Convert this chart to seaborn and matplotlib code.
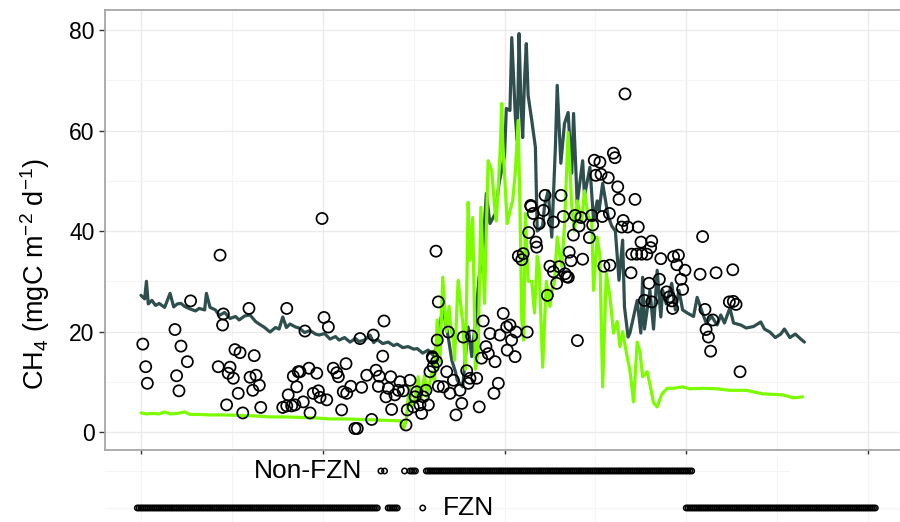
import numpy as np
import pandas as pd
import matplotlib
matplotlib.use("Agg")
import matplotlib.pyplot as plt
import seaborn as sns

# ---------------------------------------------------------------- data
# Modelled CH4 flux, first model (dark line): day of record, mgC m-2 d-1
dark_day = [0, 2, 3, 4, 6, 8, 10, 13, 16, 18, 20, 22, 24, 27, 30, 32, 35, 36, 38, 41,
            43, 46, 49, 52, 54, 57, 60, 63, 65, 68, 71, 74, 76, 78, 80, 82, 85, 87, 90, 93,
            96, 98, 101, 104, 107, 109, 112, 115, 118, 120, 123, 126, 128, 130, 133, 136,
            139, 141, 144, 147, 150, 152, 155, 158, 161, 163, 166, 169, 171, 173, 174, 177,
            178, 180, 182, 184, 186, 188, 190, 192, 195, 197, 200, 201, 203, 204, 206, 207,
            208, 209, 210, 211, 212, 213, 215, 217, 218, 221, 222, 224, 226, 228, 229, 231,
            233, 235, 237, 238, 240, 243, 244, 247, 249, 251, 252, 254, 257, 259, 261, 263,
            265, 266, 268, 269, 271, 273, 275, 276, 277, 280, 282, 284, 286, 287, 289, 292,
            294, 296, 298, 301, 304, 306, 309, 311, 314, 317, 319, 321, 324, 326, 330, 333,
            337, 341, 343, 346, 349, 352, 354, 357, 360, 363, 365]
dark_flux = [27.2, 26.5, 30.0, 25.5, 26.2, 25.2, 25.6, 24.8, 27.6, 24.9, 25.5, 25.6, 25.0,
             24.5, 24.1, 24.6, 24.3, 27.6, 24.8, 24.3, 23.2, 23.8, 22.6, 23.0, 22.3, 23.1,
             23.3, 22.0, 21.5, 20.8, 19.9, 20.8, 20.5, 22.9, 20.8, 21.5, 20.9, 20.7, 19.8,
             20.2, 19.5, 19.3, 19.6, 18.5, 19.0, 18.3, 18.8, 17.9, 18.6, 18.0, 18.3, 19.3,
             17.8, 18.4, 17.6, 17.9, 17.2, 17.5, 16.8, 17.0, 16.5, 16.6, 15.7, 16.3, 15.2,
             17.5, 24.8, 19.0, 14.3, 12.0, 10.3, 9.0, 13.0, 20.9, 15.0, 22.0, 30.8, 35.6,
             47.5, 41.5, 43.5, 49.5, 55.0, 64.4, 64.0, 78.5, 62.6, 58.0, 79.3, 66.0, 58.6,
             70.0, 77.3, 67.0, 62.0, 56.7, 40.0, 41.0, 45.0, 48.0, 38.8, 56.7, 69.0, 53.5,
             61.4, 63.6, 51.5, 63.4, 45.5, 54.0, 47.0, 52.7, 42.1, 46.0, 44.0, 49.5, 43.0,
             41.0, 40.0, 30.2, 38.2, 24.9, 18.9, 19.7, 23.0, 26.2, 19.7, 30.8, 20.5, 28.2,
             20.5, 32.2, 22.9, 28.2, 25.5, 29.6, 24.3, 28.2, 24.3, 23.6, 23.0, 26.8, 23.6,
             21.7, 23.0, 21.3, 23.3, 21.7, 24.7, 21.7, 21.3, 20.7, 21.0, 21.9, 20.5, 19.9,
             18.8, 19.5, 20.5, 18.8, 19.5, 18.5, 17.9]

# Modelled CH4 flux, second model (green line)
green_day = [0, 3, 6, 10, 13, 16, 20, 24, 27, 32, 38, 45, 55, 63, 71, 80, 88, 96, 104,
             112, 121, 129, 137, 143, 144.5, 146, 147.5, 149, 151, 152.5, 154, 156, 157.5,
             160, 161.5, 163, 164.5, 166, 168, 169.5, 170.5, 172, 172.5, 174.5, 176, 177,
             178.5, 180, 181, 182.5, 184, 185.5, 187, 189, 191, 193, 194.5, 195.5, 197.5,
             198.5, 199, 201.5, 203, 204.5, 206, 207.5, 208.5, 209.5, 210.5, 211.5, 213, 215,
             216.5, 218, 219, 221, 223, 225, 226, 227.5, 229, 230.5, 231.5, 233, 235, 237,
             238.5, 240, 242.5, 244, 246, 248, 249, 251, 252.5, 254, 256, 258, 260, 262,
             263.5, 265, 267.5, 269, 271, 273, 274.5, 276, 278.5, 280, 282, 284, 286.5,
             289.5, 293, 298, 302, 309, 317, 324, 333, 342, 353, 359, 364]
green_flux = [3.8, 3.6, 3.7, 3.6, 4.0, 3.6, 3.7, 4.0, 3.5, 3.5, 3.4, 3.4, 3.3, 3.2, 3.0,
              3.0, 2.9, 2.8, 2.6, 2.6, 2.5, 2.4, 2.3, 2.2, 0.6, 2.5, 9.0, 5.0, 7.0, 11.0,
              6.5, 11.3, 7.0, 12.0, 10.0, 22.3, 14.0, 30.8, 20.0, 25.0, 20.5, 18.0, 14.3,
              30.2, 25.0, 22.0, 12.5, 45.7, 34.2, 42.7, 12.5, 16.0, 44.7, 25.6, 54.0, 52.0,
              45.0, 42.0, 55.0, 65.4, 58.0, 41.5, 44.0, 46.0, 52.0, 62.0, 45.0, 22.3, 18.3,
              43.5, 30.0, 30.0, 23.7, 35.0, 33.0, 12.9, 30.0, 25.0, 28.0, 30.0, 38.8, 35.0,
              33.0, 41.0, 59.6, 45.0, 40.0, 46.0, 42.0, 48.0, 43.0, 42.0, 28.2, 38.8, 35.0,
              9.0, 31.6, 27.0, 19.7, 22.0, 17.0, 20.0, 14.9, 12.3, 6.0, 17.9, 16.0, 11.0,
              12.0, 9.5, 5.8, 5.0, 7.5, 8.7, 8.7, 9.0, 8.6, 8.7, 8.6, 8.3, 8.3, 7.6, 7.4,
              6.8, 7.0]

# Chamber observations (open circles)
obs_day = [1.0, 2.6, 3.5, 18.7, 22.0, 19.6, 20.9, 25.5, 27.3, 43.5, 42.5, 45.3, 44.9,
           47.1, 49.0, 48.0, 50.8, 51.7, 54.5, 53.5, 56.0, 59.4, 62.3, 60.0, 63.3, 65.1,
           61.5, 65.9, 80.2, 78.0, 81.0, 80.2, 82.9, 84.7, 85.7, 83.8, 86.5, 87.5, 89.3,
           90.2, 92.4, 96.7, 93.0, 94.8, 97.6, 98.5, 99.6, 102.2, 100.7, 103.1, 105.8,
           107.7, 108.6, 112.8, 111.3, 113.2, 115.4, 110.4, 120.5, 121.4, 117.7, 119.0,
           124.2, 126.9, 127.8, 129.3, 131.1, 130.6, 133.0, 133.7, 134.8, 137.4, 136.1,
           137.9, 139.7, 142.5, 141.6, 144.3, 148.0, 145.8, 146.5, 149.8, 150.8, 151.7,
           153.5, 154.4, 155.3, 156.8, 158.1, 159.0, 160.8, 160.5, 163.0, 163.6, 163.6,
           162.3, 160.3, 162.6, 168.2, 169.1, 171.9, 166.3, 170.0, 175.5, 176.5, 173.3,
           186.1, 179.2, 181.0, 184.7, 180.1, 177.3, 181.9, 188.3, 187.4, 189.8, 191.1,
           192.0, 194.8, 197.5, 199.3, 201.2, 203.0, 203.9, 206.3, 201.5, 205.8, 196.6,
           194.2, 212.5, 207.6, 210.3, 209.5, 214.4, 215.8, 217.3, 217.7, 213.3, 219.1,
           222.3, 231.1, 226.9, 232.3, 225.0, 226.9, 230.1, 233.3, 228.7, 223.6, 235.1,
           235.6, 236.6, 243.0, 237.9, 238.8, 242.1, 246.7, 248.5, 248.0, 240.1, 254.7,
           258.0, 257.7, 253.8, 266.3, 249.4, 252.5, 259.9, 260.8, 250.2, 253.1, 257.1,
           262.3, 263.0, 271.8, 214.6, 221.4, 241.0, 265.3, 264.5, 267.8, 273.6, 269.6,
           275.1, 281.0, 270.0, 272.7, 275.5, 278.3, 279.5, 277.0, 281.0, 234.2, 280.4,
           286.0, 293.0, 295.7, 294.8, 299.3, 309.0, 307.6, 316.4, 325.6, 285.2, 297.1,
           298.0, 289.2, 290.7, 292.0, 292.5, 323.7, 325.9, 327.4, 310.3, 314.6, 310.9,
           312.2, 313.4, 329.6]
obs_flux = [17.5, 13.0, 9.7, 20.4, 17.1, 11.2, 8.2, 14.0, 26.1, 35.2, 13.0, 23.5, 21.3,
            5.4, 12.9, 11.7, 10.7, 16.4, 15.8, 7.7, 3.8, 24.6, 15.2, 10.9, 11.3, 9.3, 8.3,
            4.9, 24.6, 4.9, 7.4, 5.2, 5.2, 5.4, 9.0, 11.1, 12.0, 12.0, 6.0, 20.1, 12.7,
            11.7, 3.8, 7.7, 8.2, 6.9, 42.5, 6.4, 22.8, 20.9, 12.7, 11.8, 11.0, 13.6, 8.0,
            7.7, 9.1, 4.4, 18.6, 8.9, 0.7, 0.7, 11.3, 2.5, 19.3, 12.3, 11.1, 9.1, 15.1,
            22.1, 7.0, 11.0, 8.7, 4.5, 7.4, 10.0, 8.3, 8.2, 10.3, 1.4, 4.4, 5.0, 7.0, 8.0,
            5.4, 3.7, 7.0, 8.3, 5.4, 12.0, 13.0, 14.7, 18.3, 25.9, 9.1, 36.0, 15.0, 14.0,
            12.0, 19.9, 10.3, 9.0, 7.7, 8.3, 5.7, 3.4, 5.0, 12.2, 10.7, 10.7, 9.7, 18.9,
            19.1, 22.1, 14.7, 17.0, 15.6, 19.6, 14.0, 19.3, 23.6, 20.9, 21.3, 18.3, 19.9,
            16.3, 15.0, 9.7, 7.7, 19.9, 35.0, 35.5, 34.3, 45.1, 43.5, 37.8, 36.8, 39.7,
            41.5, 47.1, 47.1, 41.8, 42.9, 33.0, 31.9, 32.9, 31.5, 29.6, 27.2, 30.8, 35.8,
            34.1, 34.4, 39.2, 43.1, 42.7, 38.7, 41.2, 43.1, 18.2, 33.0, 33.2, 43.5, 42.9,
            67.3, 54.1, 53.7, 55.5, 54.6, 51.1, 51.3, 50.6, 48.8, 46.3, 46.3, 44.9, 44.1,
            41.0, 42.1, 40.8, 40.8, 40.8, 31.7, 37.8, 38.0, 35.4, 35.4, 35.4, 35.4, 29.6,
            26.2, 25.9, 30.9, 36.7, 34.5, 34.9, 35.2, 33.3, 32.2, 38.9, 31.4, 31.7, 32.3,
            30.4, 30.4, 28.4, 27.9, 26.9, 26.1, 24.6, 25.9, 26.0, 25.4, 24.4, 22.3, 20.4,
            18.9, 16.1, 12.0]

# Soil state periods (first and last day of each run of daily records)
nonfzn_start = [132, 134, 145, 148, 157]
nonfzn_end = [132, 134, 145, 151, 303]
fzn_start = [-2, 136, 155, 300]
fzn_end = [130, 141, 155, 404]

y_ticks = [0, 20, 40, 60, 80]
x_major = [0, 100, 200, 300, 400]
x_minor = [50, 150, 250, 350]
state_labels = ["FZN", "Non-FZN"]

# ---------------------------------------------------------------- style
sns.set_style("white")
plt.rcParams["font.family"] = ["Liberation Sans", "DejaVu Sans"]
plt.rcParams["mathtext.default"] = "regular"
plt.rcParams["text.color"] = "black"
plt.rcParams["axes.labelcolor"] = "black"

DARK = "#2F4F4F"
GREEN = "#7CFC00"
GRID_MAJOR = "#EBEBEB"
GRID_MINOR = "#F4F4F4"
BORDER = "#A6A6A6"

W, H = 900, 522
fig = plt.figure(figsize=(W / 100, H / 100), dpi=100)

# main panel (right border runs past the figure edge)
ax = fig.add_axes([105 / W, 1 - 450 / H, (910 - 105) / W, 440 / H])
ax.set_xlim(-19.8, 423.1)
ax.set_ylim(-3.58, 84.0)

for v in x_major:
    ax.axvline(v, color=GRID_MAJOR, lw=1.0, zorder=0)
for v in x_minor:
    ax.axvline(v, color=GRID_MINOR, lw=0.8, zorder=0)
for v in y_ticks:
    ax.axhline(v, color=GRID_MAJOR, lw=1.0, zorder=0)
for v in [10, 30, 50, 70]:
    ax.axhline(v, color=GRID_MINOR, lw=0.8, zorder=0)

dark_df = pd.DataFrame({"day": dark_day, "flux": dark_flux})
green_df = pd.DataFrame({"day": green_day, "flux": green_flux})
obs_df = pd.DataFrame({"day": obs_day, "flux": obs_flux})

sns.lineplot(data=dark_df, x="day", y="flux", color=DARK, linewidth=2.3,
             estimator=None, sort=False, ax=ax, zorder=2)
sns.lineplot(data=green_df, x="day", y="flux", color=GREEN, linewidth=2.3,
             estimator=None, sort=False, ax=ax, zorder=3)
sns.scatterplot(data=obs_df, x="day", y="flux", marker="o", s=64, ax=ax, zorder=4)
pts = ax.collections[-1]
pts.set_facecolor("none")
pts.set_edgecolor("black")
pts.set_linewidth(1.25)

ax.set_yticks(y_ticks)
ax.set_xticks(x_major)
ax.set_xticklabels([])
ax.tick_params(axis="y", direction="out", length=4, width=1.0, color="#333333",
               labelsize=16.5, labelcolor="black", pad=3.5, left=True)
ax.tick_params(axis="x", direction="out", length=3, width=1.0, color="#333333",
               bottom=True)
ax.set_xlabel("")
ax.set_ylabel("")
for side in ["top", "left", "bottom"]:
    ax.spines[side].set_color(BORDER)
    ax.spines[side].set_linewidth(1.3)
ax.spines["right"].set_visible(False)

fig.text(35 / W, 1 - 274 / H, r"CH$_4$ (mgC m$^{-2}$ d$^{-1}$)", rotation=90,
         ha="center", va="center", fontsize=19.5, color="black")

# soil state strip below the panel
ax2 = fig.add_axes([105 / W, 0, (910 - 105) / W, 67 / H])
ax2.set_xlim(-19.8, 423.1)
ax2.set_ylim(-0.379, 1.432)
for v in x_major + x_minor:
    ax2.axvline(v, color=GRID_MINOR, lw=0.8, zorder=0)
ax2.axhline(0, color=GRID_MINOR, lw=0.8, zorder=0)
ax2.axhline(1, xmax=0.85, color=GRID_MINOR, lw=0.8, zorder=0)

state_rows = []
for code, starts, ends in [(1, nonfzn_start, nonfzn_end), (0, fzn_start, fzn_end)]:
    for s, e in zip(starts, ends):
        for d in np.arange(s, e + 1):
            state_rows.append((d, code))
state_df = pd.DataFrame(state_rows, columns=["day", "state"])
sns.scatterplot(data=state_df, x="day", y="state", marker="o", s=15, ax=ax2, zorder=3)
sp = ax2.collections[-1]
sp.set_facecolor("none")
sp.set_edgecolor("black")
sp.set_linewidth(1.1)

ax2.text(121.6, 1, state_labels[1], ha="right", va="center", fontsize=19,
         color="black")
ax2.text(166.2, 0, state_labels[0], ha="left", va="center", fontsize=19,
         color="black")
ax2.set_axis_off()

fig.savefig("out.png", dpi=100)
